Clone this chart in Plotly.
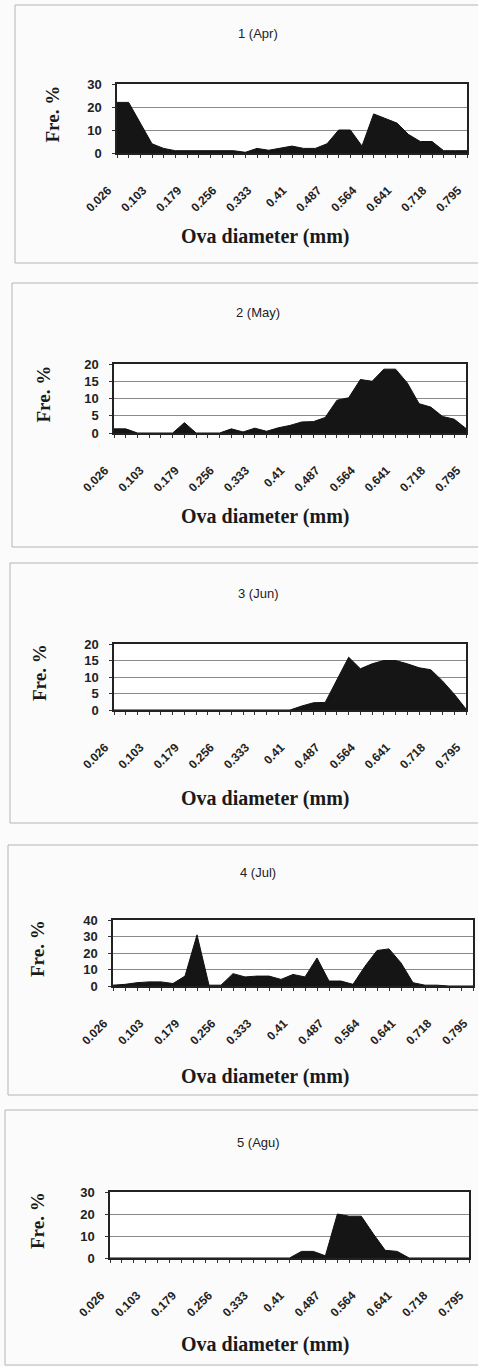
import plotly.graph_objects as go

W, H = 478, 1367

# Ova diameter classes (mm)
diameters = ["0.026", "0.051", "0.077", "0.103", "0.128", "0.154", "0.179", "0.205",
             "0.231", "0.256", "0.282", "0.308", "0.333", "0.359", "0.385", "0.41",
             "0.436", "0.461", "0.487", "0.513", "0.538", "0.564", "0.59", "0.615",
             "0.641", "0.667", "0.692", "0.718", "0.743", "0.769", "0.795"]

# Frequency (%) per diameter class, one list per month
apr = [22, 22, 13, 4, 2, 1, 1, 1, 1, 1, 1, 0.3, 2, 1.2, 2, 3, 2, 2, 4, 10, 10, 3,
       17, 15, 13, 8, 5, 5, 1, 1, 1]
may = [1.2, 1.2, 0, 0, 0, 0, 3, 0, 0, 0, 1.2, 0.3, 1.4, 0.5, 1.5, 2.2, 3.2, 3.3,
       4.5, 9.5, 10.2, 15.5, 15, 18.5, 18.5, 14.5, 8.5, 7.5, 4.8, 4, 1.3]
jun = [0, 0, 0, 0, 0, 0, 0, 0, 0, 0, 0, 0, 0, 0, 0, 0, 1.2, 2.2, 2.3, 9, 16, 12.5,
       14, 15, 15, 14, 12.8, 12.2, 8.8, 4.8, 0.3]
jul = [0.5, 1, 2, 2.5, 2.5, 1.5, 6, 31, 0.5, 0.5, 7.5, 5.5, 6, 6, 4, 7, 5.5, 17, 3,
       3, 1, 12, 21.5, 22.5, 14, 2, 0.5, 0.5, 0, 0, 0]
agu = [0, 0, 0, 0, 0, 0, 0, 0, 0, 0, 0, 0, 0, 0, 0, 0, 3, 3, 1, 20, 19, 19, 11,
       3.5, 3, 0, 0, 0, 0, 0, 0]

series = [apr, may, jun, jul, agu]
titles = ["1 (Apr)", "2 (May)", "3 (Jun)", "4 (Jul)", "5 (Agu)"]
y_max = [30, 20, 20, 40, 30]
y_step = [10, 5, 5, 10, 10]

# Page layout in pixels: outer frame, plot area, and text positions
frames = [(15, 5, 478, 263), (12, 283, 478, 547), (10, 563, 478, 823),
          (8, 845, 478, 1095), (5, 1110, 478, 1365)]
plots = [(117, 84, 467, 153), (114, 364, 466, 433), (114, 644, 466, 710),
         (113, 920, 473, 986), (110, 1192, 469, 1258)]
title_y = [33, 313, 593, 873, 1142]
ytitle_x = [52, 43, 40, 38, 37]
xtitle_y = [236, 516, 798, 1076, 1344]


def fx(px):
    return px / W


def fy(py):
    return 1 - py / H


fig = go.Figure()
shapes = []
annotations = []
tick_text = [d if i % 3 == 0 else "" for i, d in enumerate(diameters)]
xtick_font = dict(family="Liberation Sans", size=12, color="#222", weight="bold")
ytick_font = dict(family="Liberation Sans", size=13, color="#222", weight="bold")

for i, vals in enumerate(series):
    n = i + 1
    xa = "x" if n == 1 else f"x{n}"
    ya = "y" if n == 1 else f"y{n}"
    px0, py0, px1, py1 = plots[i]

    fig.add_trace(go.Scatter(
        x=diameters, y=vals, xaxis=xa, yaxis=ya,
        mode="lines", fill="tozeroy",
        line=dict(color="#111111", width=1),
        fillcolor="#151515", showlegend=False, hoverinfo="x+y",
    ))

    fig.layout[f"xaxis{'' if n == 1 else n}"] = dict(
        domain=[fx(px0), fx(px1)], anchor=ya, type="category",
        range=[0, len(diameters) - 1], automargin=False,
        tickmode="array", tickvals=diameters, ticktext=tick_text,
        tickangle=-45, ticks="outside", ticklen=3, tickcolor="#333",
        tickfont=xtick_font, ticklabelstandoff=21, ticklabelshift=-9,
        showline=True, linecolor="#222", linewidth=1.5, mirror=True,
        showgrid=False, zeroline=False, fixedrange=True,
    )
    fig.layout[f"yaxis{'' if n == 1 else n}"] = dict(
        domain=[fy(py1), fy(py0)], anchor=xa, automargin=False,
        range=[0, y_max[i]], dtick=y_step[i], tick0=0,
        ticks="outside", ticklen=3, tickcolor="#333",
        tickfont=ytick_font, ticklabelstandoff=8,
        showline=True, linecolor="#222", linewidth=1.5, mirror=True,
        showgrid=True, gridcolor="#8a8a8a", gridwidth=1,
        zeroline=False, fixedrange=True,
    )

    # panel frame, open on the right where it runs off the page
    fx0, fy0, fx1, fy1 = frames[i]
    shapes.append(dict(type="path", xref="paper", yref="paper",
                       path=(f"M {fx(fx1)},{fy(fy0)} L {fx(fx0)},{fy(fy0)} "
                             f"L {fx(fx0)},{fy(fy1)} L {fx(fx1)},{fy(fy1)}"),
                       line=dict(color="#b5b5b5", width=1), layer="below"))

    annotations.append(dict(text=titles[i], xref="paper", yref="paper",
                            x=fx(258), y=fy(title_y[i]), showarrow=False,
                            xanchor="center", yanchor="middle",
                            font=dict(family="Liberation Sans", size=13, color="#222")))
    annotations.append(dict(text="Fre. %", xref="paper", yref="paper",
                            x=fx(ytitle_x[i]), y=fy((py0 + py1) / 2 - 4),
                            showarrow=False, textangle=-90,
                            xanchor="center", yanchor="middle",
                            font=dict(family="Liberation Serif", size=19,
                                      color="#1a1a1a", weight="bold")))
    annotations.append(dict(text="Ova diameter (mm)", xref="paper", yref="paper",
                            x=fx(265), y=fy(xtitle_y[i]), showarrow=False,
                            xanchor="center", yanchor="middle",
                            font=dict(family="Liberation Serif", size=20,
                                      color="#1a1a1a", weight="bold")))

fig.update_layout(
    width=W, height=H, margin=dict(l=0, r=0, t=0, b=0),
    paper_bgcolor="#fbfbfb", plot_bgcolor="white",
    shapes=shapes, annotations=annotations,
)

fig.write_html("out.html")
